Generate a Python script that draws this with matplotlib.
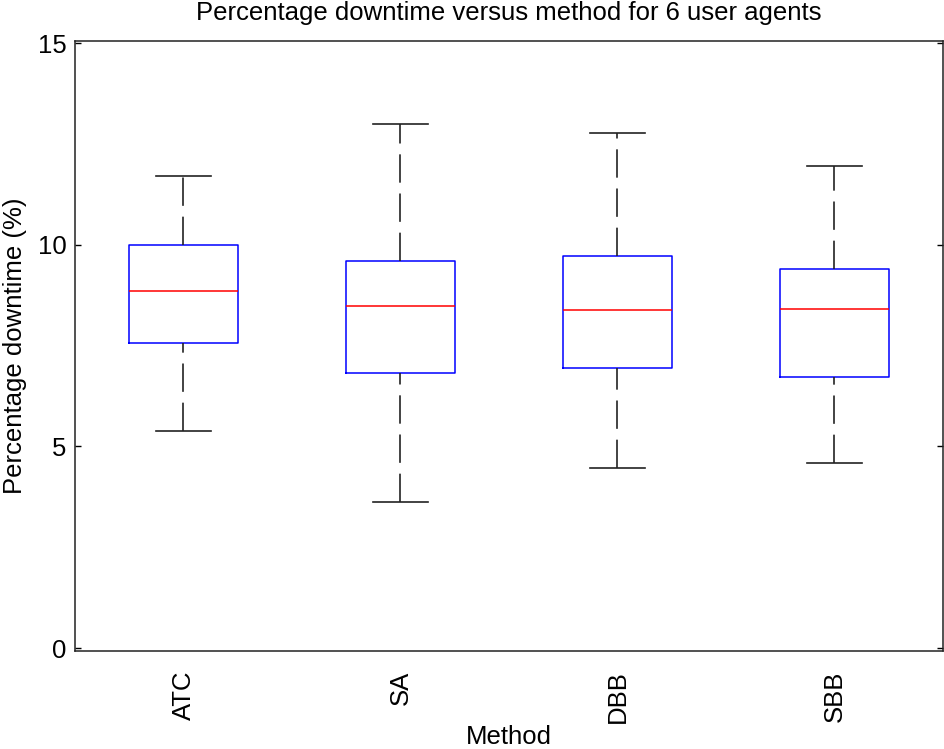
import matplotlib
matplotlib.use('Agg')
from matplotlib import pyplot as plt

plt.rcParams['font.family'] = ['Liberation Sans', 'DejaVu Sans']

# box statistics (percentage downtime)
methods = ['ATC', 'SA', 'DBB', 'SBB']
whisker_low = [5.38, 3.62, 4.46, 4.59]
q1 = [7.56, 6.81, 6.94, 6.72]
median = [8.86, 8.47, 8.38, 8.41]
q3 = [10.0, 9.60, 9.72, 9.41]
whisker_high = [11.70, 12.99, 12.77, 11.95]

stats = []
for i in range(len(methods)):
    stats.append({'label': methods[i], 'whislo': whisker_low[i], 'q1': q1[i],
                  'med': median[i], 'q3': q3[i], 'whishi': whisker_high[i],
                  'fliers': []})

fs = 18.5
fig = plt.figure(figsize=(9.45, 7.49), dpi=100)
ax = fig.add_axes([75/945, 98/749, 868/945, 610/749])

bp = ax.bxp(stats, positions=range(1, len(methods) + 1), widths=0.5,
            capwidths=0.25, showfliers=False,
            boxprops=dict(color='blue', linewidth=1.1),
            medianprops=dict(color='red', linewidth=1.1),
            whiskerprops=dict(color='#222222', linewidth=1.2,
                              linestyle=(0, (17, 6.5))),
            capprops=dict(color='#222222', linewidth=1.2))

# MATLAB draws the lower whisker from the end upwards
for k, w in enumerate(bp['whiskers']):
    if k % 2 == 0:
        w.set_ydata(w.get_ydata()[::-1])

ax.set_xlim(0.5, len(methods) + 0.5)
ax.set_ylim(-0.07, 15.05)
ax.set_yticks([0, 5, 10, 15])
ax.set_xticks(range(1, len(methods) + 1))
ax.set_xticklabels(methods, rotation=90, fontsize=fs)
ax.tick_params(axis='x', length=0, pad=14)
ax.tick_params(axis='y', direction='in', left=True, right=True, length=4,
               width=1, labelsize=fs, pad=6)
for s in ax.spines.values():
    s.set_linewidth(1.1)
    s.set_color('#222222')

ax.set_title('Percentage downtime versus method for 6 user agents',
             fontsize=fs, pad=15)
ax.set_xlabel('Method', fontsize=fs, labelpad=1.5)
ax.set_ylabel('Percentage downtime (%)', fontsize=fs, labelpad=8)

fig.savefig('out.png', dpi=100)
